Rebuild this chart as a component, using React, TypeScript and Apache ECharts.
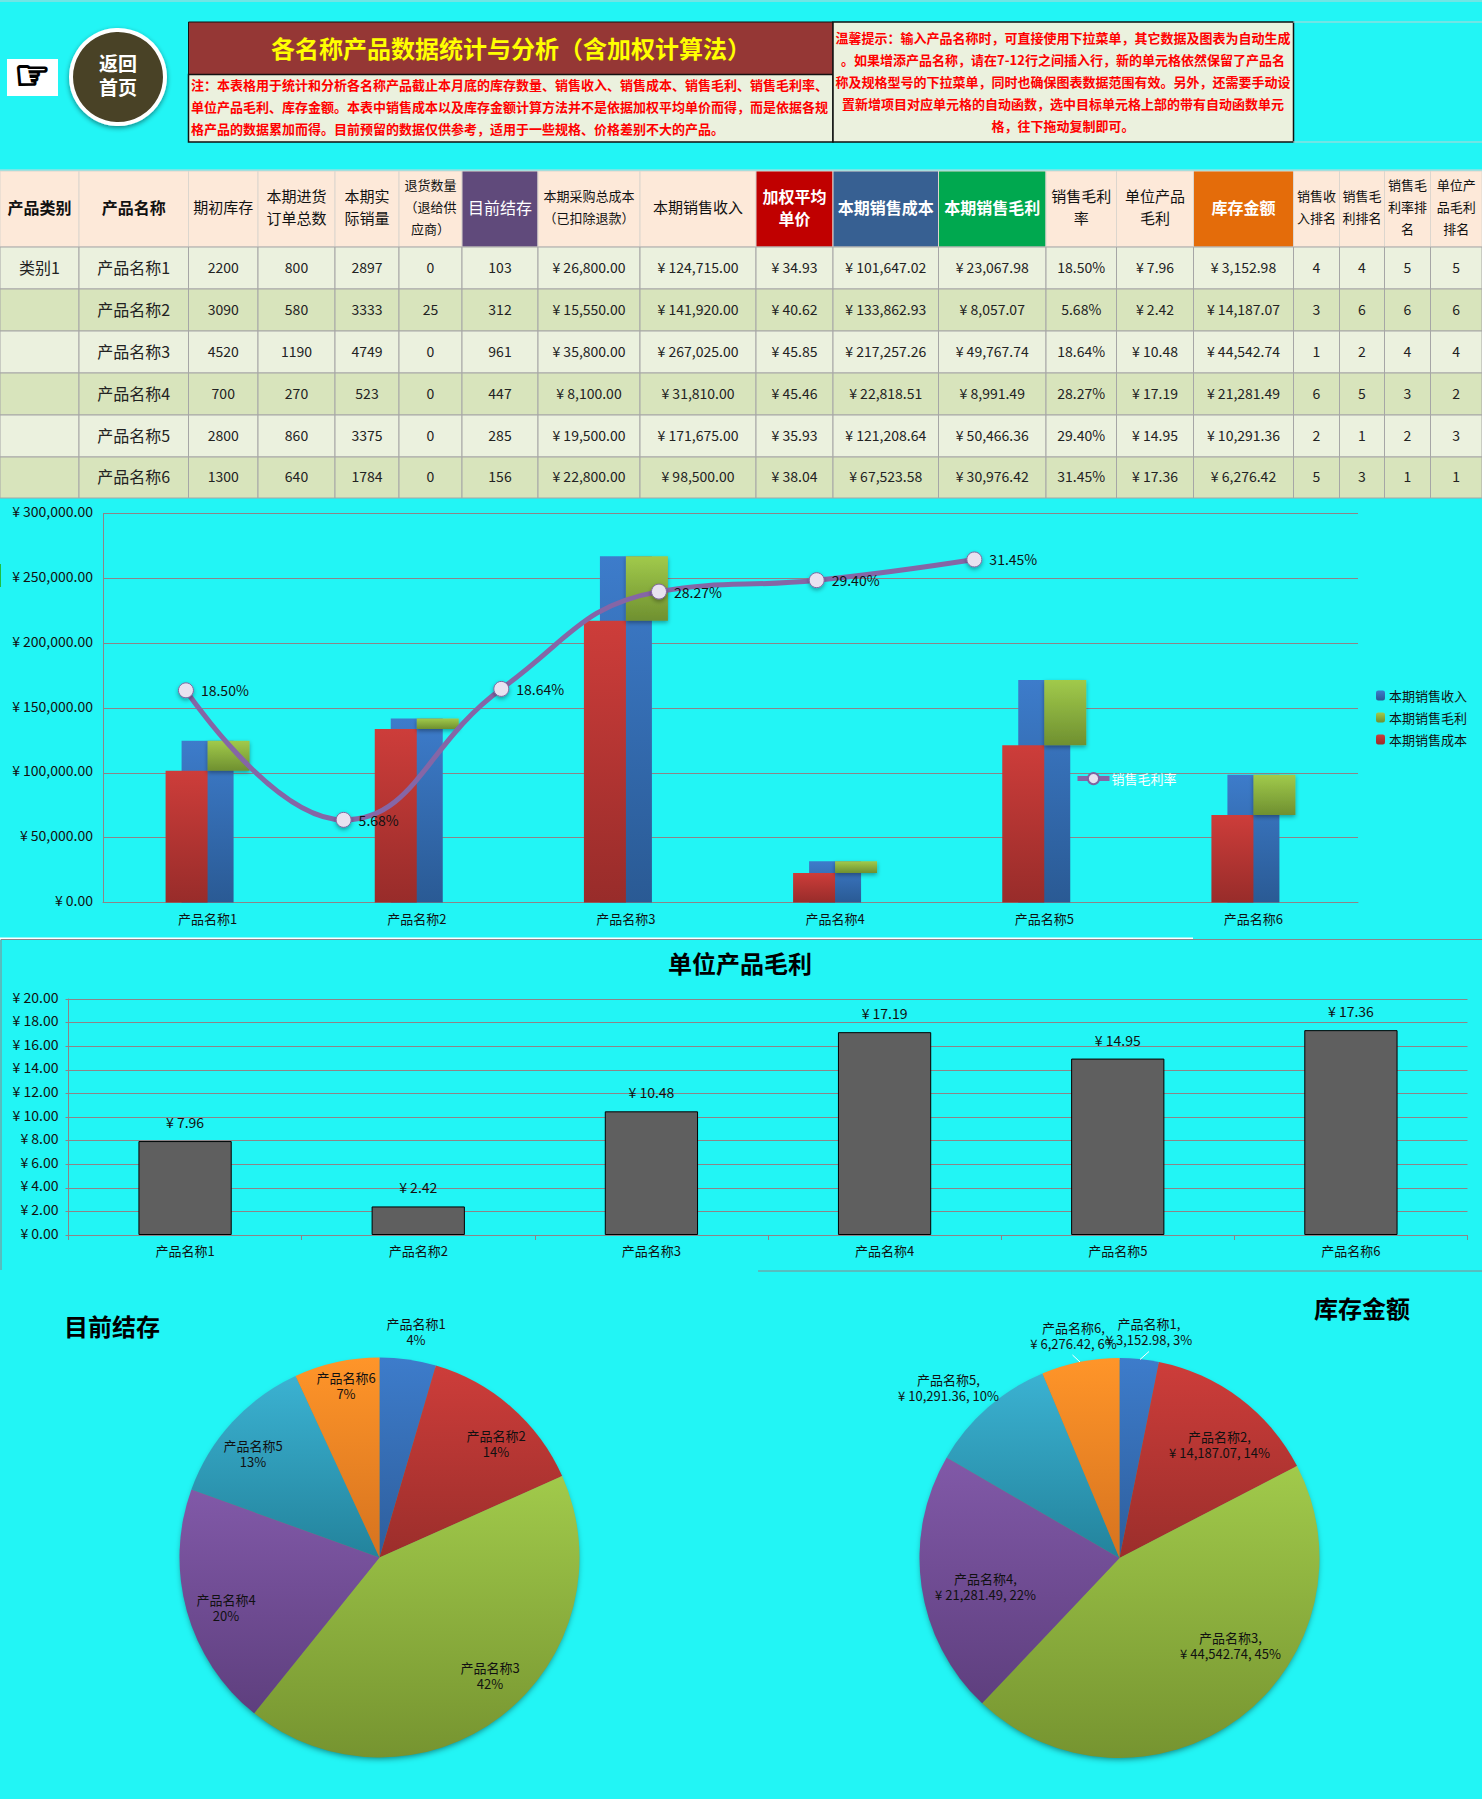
import React, { useEffect, useRef } from "react";
import * as echarts from "echarts";

const FONT = '"Noto Sans CJK SC", "Noto Sans", sans-serif';

// ---------- data ----------
const products = ["产品名称1", "产品名称2", "产品名称3", "产品名称4", "产品名称5", "产品名称6"];
const opening = [2200, 3090, 4520, 700, 2800, 1300];
const purchased = [800, 580, 1190, 270, 860, 640];
const sold = [2897, 3333, 4749, 523, 3375, 1784];
const returned = [0, 25, 0, 0, 0, 0];
const stock = [103, 312, 961, 447, 285, 156];
const purchaseCost = [26800, 15550, 35800, 8100, 19500, 22800];
const revenue = [124715, 141920, 267025, 31810, 171675, 98500];
const weightedPrice = [34.93, 40.62, 45.85, 45.46, 35.93, 38.04];
const salesCost = [101647.02, 133862.93, 217257.26, 22818.51, 121208.64, 67523.58];
const grossProfit = [23067.98, 8057.07, 49767.74, 8991.49, 50466.36, 30976.42];
const grossRate = [18.5, 5.68, 18.64, 28.27, 29.4, 31.45];
const unitProfit = [7.96, 2.42, 10.48, 17.19, 14.95, 17.36];
const inventoryValue = [3152.98, 14187.07, 44542.74, 21281.49, 10291.36, 6276.42];
const rankRevenue = [4, 3, 1, 6, 2, 5];
const rankProfit = [4, 6, 2, 5, 1, 3];
const rankRate = [5, 6, 4, 3, 2, 1];
const rankUnit = [5, 6, 4, 2, 3, 1];

const titleText = "各名称产品数据统计与分析（含加权计算法）";
const noteLines = [
  "注：本表格用于统计和分析各名称产品截止本月底的库存数量、销售收入、销售成本、销售毛利、销售毛利率、",
  "单位产品毛利、库存金额。本表中销售成本以及库存金额计算方法并不是依据加权平均单价而得，而是依据各规",
  "格产品的数据累加而得。目前预留的数据仅供参考，适用于一些规格、价格差别不大的产品。",
];
const tipLines = [
  "温馨提示：输入产品名称时，可直接使用下拉菜单，其它数据及图表为自动生成",
  "。如果增添产品名称，请在7-12行之间插入行，新的单元格依然保留了产品名",
  "称及规格型号的下拉菜单，同时也确保图表数据范围有效。另外，还需要手动设",
  "置新增项目对应单元格的自动函数，选中目标单元格上部的带有自动函数单元",
  "格，往下拖动复制即可。",
];

// ---------- layout and style ----------
const CYAN = "#22F5F5";
const GRID = "#8C8488";
const colEdges = [0, 79, 188.5, 258, 335, 399, 462, 538, 640, 756, 833, 938.5, 1046, 1116.5, 1193.5, 1293.5, 1339.5, 1384.5, 1430.5, 1482];
const rowEdges = [247, 289, 331, 373, 415, 457, 498];
const headers = [
  { t: "产品类别", s: 16, w: 700 },
  { t: "产品名称", s: 16, w: 700 },
  { t: "期初库存", s: 15 },
  { t: "本期进货\n订单总数", s: 15 },
  { t: "本期实\n际销量", s: 15 },
  { t: "退货数量\n（退给供\n应商）", s: 13 },
  { t: "目前结存", s: 16, bg: "#604A7B", c: "#fff" },
  { t: "本期采购总成本\n（已扣除退款）", s: 13 },
  { t: "本期销售收入", s: 15 },
  { t: "加权平均\n单价", s: 16, w: 700, bg: "#C00000", c: "#fff" },
  { t: "本期销售成本", s: 16, w: 700, bg: "#376092", c: "#fff" },
  { t: "本期销售毛利", s: 16, w: 700, bg: "#00A84F", c: "#fff" },
  { t: "销售毛利\n率", s: 15 },
  { t: "单位产品\n毛利", s: 15 },
  { t: "库存金额", s: 16, w: 700, bg: "#E46C0A", c: "#fff" },
  { t: "销售收\n入排名", s: 13 },
  { t: "销售毛\n利排名", s: 13 },
  { t: "销售毛\n利率排\n名", s: 13 },
  { t: "单位产\n品毛利\n排名", s: 13 },
];

const yuan = (v: number) =>
  "¥ " + v.toLocaleString("en-US", { minimumFractionDigits: 2, maximumFractionDigits: 2 });

const vGrad = (a: string, b: string) =>
  new echarts.graphic.LinearGradient(0, 0, 0, 1, [
    { offset: 0, color: a },
    { offset: 1, color: b },
  ]);

const sliceColors = [
  ["#3D7CCB", "#2E5E9C"],
  ["#CD3D3A", "#9B2E2B"],
  ["#A1CA4B", "#769430"],
  ["#8159A8", "#5E3F7E"],
  ["#3BB2D2", "#23839C"],
  ["#FF9529", "#D6731F"],
];

const stockLabelPos = [[416, 1331.5], [496, 1443.5], [490, 1675.5], [226, 1607.5], [253, 1453.5], [346, 1385.5]];
const valueLabelPos = [[1149, 1331.5], [1219.5, 1444.5], [1230.5, 1645.5], [985.5, 1586.5], [948.5, 1387.5], [1073.5, 1335.5]];

function text(x: number, y: number, t: string, size: number, fill: string, weight: any = 400, align = "center", lineHeight?: number) {
  return {
    type: "text",
    x,
    y: y - 1.5,
    z: 1,
    silent: true,
    style: {
      text: t,
      fill,
      fontSize: size,
      fontWeight: weight,
      fontFamily: FONT,
      align,
      verticalAlign: "middle",
      lineHeight: lineHeight ?? Math.round(size * 1.3),
    },
  };
}
function rect(x: number, y: number, w: number, h: number, fill: string, stroke?: string, lw = 1, z = 0) {
  return {
    type: "rect",
    z,
    silent: true,
    shape: { x, y, width: w, height: h },
    style: { fill, stroke: stroke ?? "none", lineWidth: stroke ? lw : 0 },
  };
}
function line(x1: number, y1: number, x2: number, y2: number, stroke: string, lw = 1, z = 1) {
  return { type: "line", z, silent: true, shape: { x1, y1, x2, y2 }, style: { stroke, lineWidth: lw } };
}
function pieShadow(cx: number, cy: number) {
  return {
    type: "circle", z: 1, silent: true,
    shape: { cx, cy, r: 198 },
    style: { fill: "#6F8A6A", shadowBlur: 6, shadowColor: "rgba(0,0,0,.5)", shadowOffsetY: 3 },
  };
}

function buildGraphic() {
  const g: any[] = [];
  g.push(rect(0, 0, 1482, 1799, CYAN, undefined, 0, -5));
  // faint sheet lines
  g.push(line(0, 1, 1482, 1, "#BFD4D4"));
  g.push(line(1293, 22, 1482, 22, "#BFD4D4"));
  g.push(line(1293, 142, 1482, 142, "#BFD4D4"));
  g.push(line(0, 170, 1482, 170, "#C8D8D8"));
  g.push(line(1, 939, 1, 1270, GRID));
  g.push(line(0, 938.5, 1193, 938.5, "#FFFFFF", 2));
  g.push(line(1, 939.5, 1482, 939.5, GRID));
  g.push(line(758, 1271, 1482, 1271, GRID));
  g.push(rect(0, 564, 1, 23, "#1FBF3F"));
  g.push(pieShadow(379.5, 1557.5));
  g.push(pieShadow(1119.5, 1558));

  // hand icon
  g.push(rect(7, 59, 51, 37, "#FFFFFF"));
  g.push({
    type: "text", x: 32.5, y: 75, z: 1, silent: true,
    style: { text: "☞", fill: "#000", stroke: "#000", lineWidth: 2, fontSize: 40, fontFamily: '"DejaVu Sans"', align: "center", verticalAlign: "middle" },
  });
  // home button
  g.push({
    type: "circle", z: 1, silent: true,
    shape: { cx: 118, cy: 77, r: 47 },
    style: { fill: "#4A4328", stroke: "#FFFFFF", lineWidth: 4, shadowBlur: 5, shadowColor: "rgba(0,0,0,.45)", shadowOffsetY: 2 },
  });
  g.push(text(118, 75.5, "返回\n首页", 19, "#FFFFFF", 700, "center", 24));

  // title / note / tips
  g.push(rect(188.5, 22, 644.5, 52.5, "#953735", "#111", 1));
  g.push(text(511, 49, titleText, 24, "#FFFF00", 700));
  g.push(rect(188.5, 74.5, 644.5, 67.5, "#EBF1DE", "#111", 1.5));
  noteLines.forEach((t, i) => g.push(text(191, 86 + i * 22, t, 13, "#FF0000", 700, "left")));
  g.push(rect(833, 22, 460.5, 120, "#EBF1DE", "#111", 1.5));
  tipLines.forEach((t, i) => g.push(text(1063, 38.5 + i * 22, t, 13, "#FF0000", 700)));

  // table
  const rows = products.map((p, i) => [
    i === 0 ? "类别1" : "",
    p,
    String(opening[i]),
    String(purchased[i]),
    String(sold[i]),
    String(returned[i]),
    String(stock[i]),
    yuan(purchaseCost[i]),
    yuan(revenue[i]),
    yuan(weightedPrice[i]),
    yuan(salesCost[i]),
    yuan(grossProfit[i]),
    grossRate[i].toFixed(2) + "%",
    yuan(unitProfit[i]),
    yuan(inventoryValue[i]),
    String(rankRevenue[i]),
    String(rankProfit[i]),
    String(rankRate[i]),
    String(rankUnit[i]),
  ]);
  headers.forEach((h: any, c) => {
    const x = colEdges[c];
    const w = colEdges[c + 1] - x;
    g.push(rect(x, 171, w, 76, h.bg ?? "#FDE9D9", "#DCD6CE", 1));
    g.push(text(x + w / 2, 208, h.t, h.s, h.c ?? "#111", h.w ?? 400, "center", 22));
  });
  rows.forEach((row, r) => {
    const y = rowEdges[r];
    const h = rowEdges[r + 1] - y;
    row.forEach((cell, c) => {
      const x = colEdges[c];
      const w = colEdges[c + 1] - x;
      g.push(rect(x, y, w, h, r % 2 === 0 ? "#EBF1DE" : "#D8E4BC", "#A6A6A6", 1));
      if (cell) g.push(text(x + w / 2, y + h / 2, cell, c < 2 ? 16 : 14, "#222"));
    });
  });
  // leader lines on the value pie
  g.push(line(1149, 1351.5, 1140, 1359.5, "#FFFFFF", 1, 5));
  g.push(line(1072.5, 1355, 1080, 1362, "#FFFFFF", 1, 5));
  return g;
}

const axisText = { color: "#111", fontSize: 13, fontFamily: FONT };
const valueText = { color: "#111", fontSize: 14, fontFamily: FONT, verticalAlign: "bottom", lineHeight: 5 };
const shadow = { shadowBlur: 4, shadowColor: "rgba(0,0,0,.35)", shadowOffsetY: 2 };

function pieSeries(values: number[], cx: number, cy: number, pos: number[][], fmt: any, size: number) {
  return {
    type: "pie",
    center: [cx, cy],
    radius: [0, 200],
    startAngle: 90,
    clockwise: true,
    percentPrecision: 0,
    avoidLabelOverlap: false,
    silent: true,
    z: 3,
    label: { show: true, position: "inside", formatter: fmt, color: "#111", fontSize: size, lineHeight: 16, fontFamily: FONT, align: "center" },
    labelLine: { show: false },
    labelLayout: (p: any) => ({ x: pos[p.dataIndex][0], y: pos[p.dataIndex][1], align: "center", verticalAlign: "middle" }),
    data: values.map((v, i) => ({
      name: products[i],
      value: v,
      itemStyle: { color: vGrad(sliceColors[i][0], sliceColors[i][1]) },
    })),
  };
}

export default function App() {
  const ref = useRef<HTMLDivElement>(null);
  useEffect(() => {
    const chart = echarts.init(ref.current!, undefined, { renderer: "svg" });
    chart.setOption({
      animation: false,
      textStyle: { fontFamily: FONT },
      graphic: { elements: buildGraphic() },
      title: [
        { text: "单位产品毛利", left: 735, top: 945, textAlign: "center", textStyle: { fontSize: 24, fontWeight: 700, color: "#000", fontFamily: FONT } },
        { text: "目前结存", left: 59, top: 1308, textStyle: { fontSize: 24, fontWeight: 700, color: "#000", fontFamily: FONT } },
        { text: "库存金额", left: 1309, top: 1290, textStyle: { fontSize: 24, fontWeight: 700, color: "#000", fontFamily: FONT } },
      ],
      legend: [
        {
          left: 1371, top: 684, orient: "vertical", itemWidth: 9, itemHeight: 10, itemGap: 9, selectedMode: false,
          data: ["本期销售收入", "本期销售毛利", "本期销售成本"],
          textStyle: { fontSize: 13, color: "#111", fontFamily: FONT, padding: [0, 0, 0, -1] },
        },
        {
          left: 1070, top: 767, itemWidth: 32, itemHeight: 14, selectedMode: false,
          data: ["销售毛利率"],
          lineStyle: { width: 5, color: "#8566A6" },
          textStyle: { fontSize: 13, color: "#FFFFFF", fontFamily: FONT, padding: [0, 0, 0, -3] },
        },
      ],
      grid: [
        { left: 103, top: 513.5, width: 1255, height: 389 },
        { left: 68.5, top: 999, width: 1399, height: 236 },
      ],
      xAxis: [
        {
          gridIndex: 0, type: "category", data: products,
          axisTick: { show: false }, axisLine: { onZero: false, lineStyle: { color: GRID } },
          axisLabel: { ...axisText, margin: 9 },
        },
        { gridIndex: 0, type: "category", data: products, show: false },
        { gridIndex: 0, type: "value", min: -0.526, max: 7.433, show: false, splitLine: { show: false } },
        {
          gridIndex: 1, type: "category", data: products,
          axisTick: { show: true, length: 5, lineStyle: { color: GRID } }, axisLine: { onZero: false, lineStyle: { color: GRID } },
          axisLabel: { ...axisText, margin: 9 },
        },
      ],
      yAxis: [
        {
          gridIndex: 0, type: "value", min: 0, max: 300000, interval: 50000,
          axisLine: { show: true, onZero: false, lineStyle: { color: GRID } }, axisTick: { show: false },
          splitLine: { lineStyle: { color: GRID } },
          axisLabel: { ...valueText, margin: 10, formatter: (v: number) => yuan(v) },
        },
        { gridIndex: 0, type: "value", min: -2.5, max: 36, show: false, splitLine: { show: false } },
        {
          gridIndex: 1, type: "value", min: 0, max: 20, interval: 2,
          axisLine: { show: true, onZero: false, lineStyle: { color: GRID } }, axisTick: { show: true, length: 3, lineStyle: { color: GRID } },
          splitLine: { lineStyle: { color: GRID } },
          axisLabel: { ...valueText, margin: 10, formatter: (v: number) => yuan(v) },
        },
      ],
      series: [
        {
          name: "本期销售收入", type: "bar", xAxisIndex: 0, yAxisIndex: 0, barWidth: 52, z: 2,
          itemStyle: { color: vGrad("#3D7CCB", "#2A5A94") }, data: revenue,
        },
        {
          name: "本期销售成本", type: "bar", xAxisIndex: 1, yAxisIndex: 0, barWidth: 42, barGap: 0, z: 3,
          itemStyle: { color: vGrad("#CD3D3A", "#982C2A") }, data: salesCost,
        },
        {
          name: "成本基线", type: "bar", xAxisIndex: 1, yAxisIndex: 0, barWidth: 42, barGap: 0, stack: "profit", z: 1,
          itemStyle: { color: "transparent" }, data: salesCost, silent: true,
        },
        {
          name: "本期销售毛利", type: "bar", xAxisIndex: 1, yAxisIndex: 0, barWidth: 42, barGap: 0, stack: "profit", z: 3,
          itemStyle: { color: vGrad("#A1CA4B", "#6F9030"), ...shadow }, data: grossProfit,
        },
        {
          name: "销售毛利率", type: "line", xAxisIndex: 2, yAxisIndex: 1, smooth: 0.45, z: 5,
          lineStyle: { color: "#8566A6", width: 5 },
          symbol: "circle", symbolSize: 15,
          itemStyle: { color: "#E8E2F0", borderColor: "#7F64A0", borderWidth: 1, ...shadow },
          label: {
            show: true, position: "right", distance: 7, color: "#111", fontSize: 14, fontFamily: FONT,
            formatter: (p: any) => grossRate[p.dataIndex].toFixed(2) + "%",
          },
          data: grossRate.map((v, i) => [i, v]),
        },
        {
          name: "单位产品毛利", type: "bar", xAxisIndex: 3, yAxisIndex: 2, barWidth: "40%",
          itemStyle: { color: "#5F5F5F", borderColor: "#000", borderWidth: 1 },
          label: { show: true, position: "top", distance: 12, color: "#111", fontSize: 14, fontFamily: FONT, formatter: (p: any) => yuan(p.value) },
          data: unitProfit,
        },
        pieSeries(stock, 379.5, 1557.5, stockLabelPos, (p: any) => `${p.name}\n${p.percent}%`, 13),
        pieSeries(inventoryValue, 1119.5, 1558, valueLabelPos, (p: any) => `${p.name},\n${yuan(p.value)}, ${p.percent}%`, 13),
      ],
    });
    return () => chart.dispose();
  }, []);
  return <div ref={ref} style={{ position: "absolute", left: 0, top: 0, width: 1482, height: 1812 }} />;
}
